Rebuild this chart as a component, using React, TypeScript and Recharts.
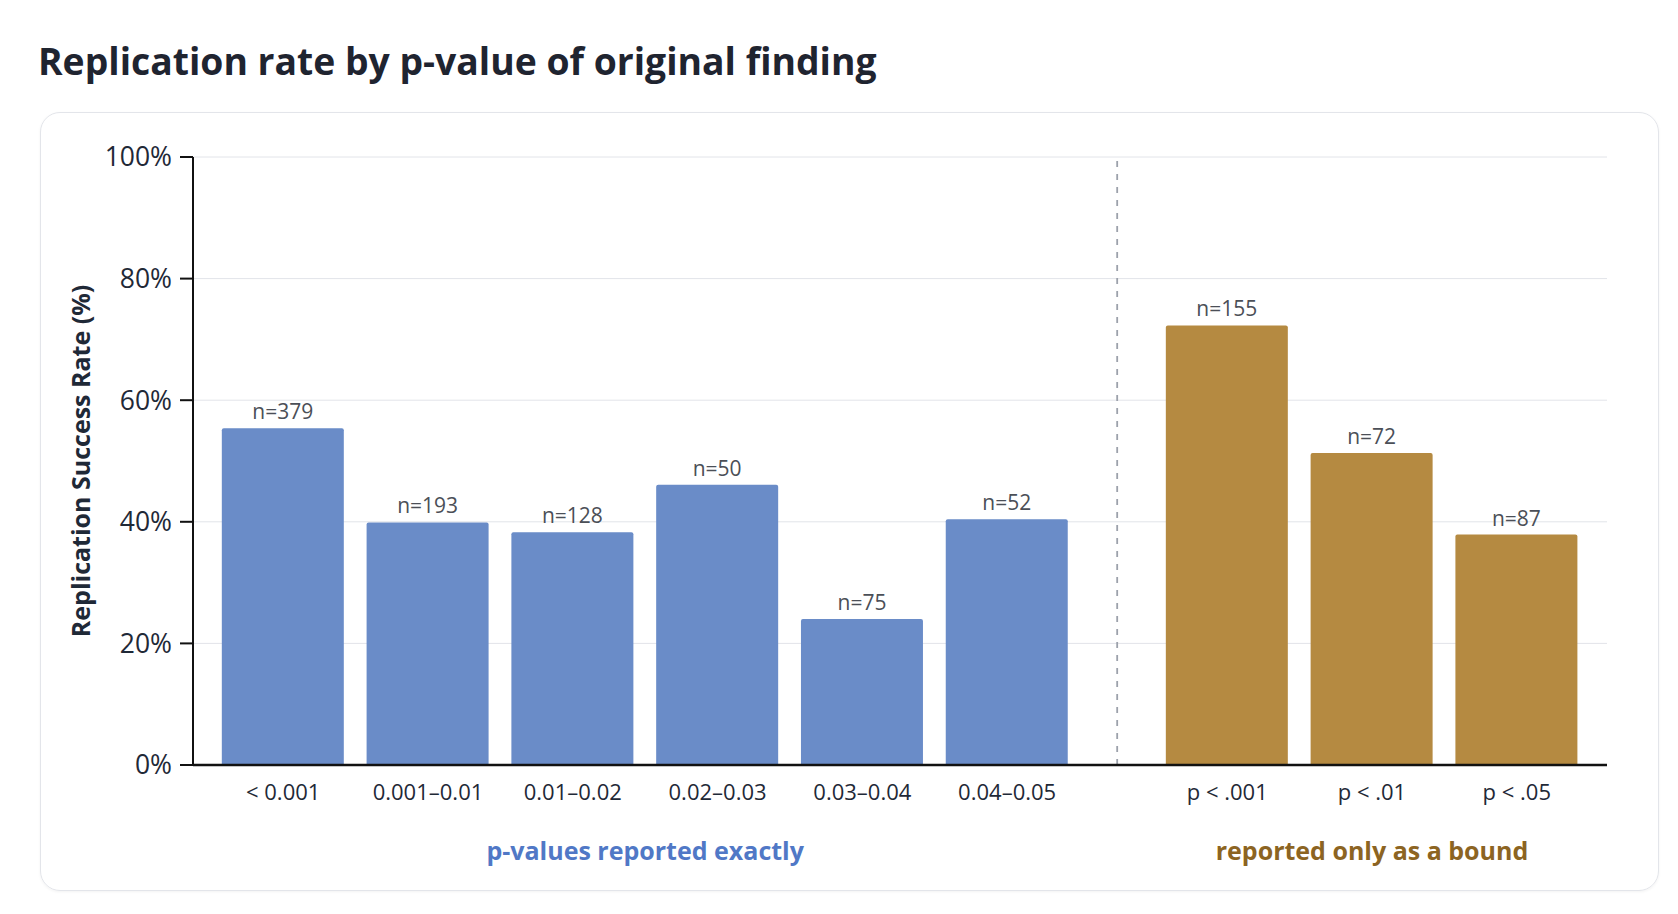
import React from 'react';
import {
  BarChart, Bar, XAxis, YAxis, CartesianGrid, Cell, LabelList, ReferenceLine,
} from 'recharts';

const CATEGORIES = ['< 0.001', '0.001–0.01', '0.01–0.02', '0.02–0.03', '0.03–0.04', '0.04–0.05', 'p < .001', 'p < .01', 'p < .05'];
const RATES = [55.4, 39.9, 38.3, 46.1, 24.0, 40.4, 72.3, 51.3, 37.9];
const COUNTS = [379, 193, 128, 50, 75, 52, 155, 72, 87];
const GROUP_OF = ['exact', 'exact', 'exact', 'exact', 'exact', 'exact', 'bound', 'bound', 'bound'];
const GROUP_KEYS = ['exact', 'bound'];
const GROUP_LABELS = ['p-values reported exactly', 'reported only as a bound'];
const Y_TICKS = [0, 20, 40, 60, 80, 100];

const BAR_COLOR: Record<string, string> = { exact: '#6a8cc8', bound: '#b58a41' };
const TEXT_COLOR: Record<string, string> = { exact: '#5078c6', bound: '#8c6422' };
const FONT = '"Open Sans", "Noto Sans", sans-serif';

// extra space (in slots) between the two groups, plus padding at both ends
const GROUP_GAP = 0.52;
const EDGE_PAD = 0.623;

const rows = CATEGORIES.map((name, i) => ({
  name,
  pos: i + (GROUP_OF[i] === 'bound' ? GROUP_GAP : 0),
  rate: RATES[i],
  n: COUNTS[i],
  group: GROUP_OF[i],
}));

const positions = rows.map((r) => r.pos);
const domain: [number, number] = [positions[0] - EDGE_PAD, positions[positions.length - 1] + EDGE_PAD];

const groupCenters = GROUP_KEYS.map((g) => {
  const p = rows.filter((r) => r.group === g).map((r) => r.pos);
  return (p[0] + p[p.length - 1]) / 2;
});

const lastExact = rows.filter((r) => r.group === 'exact').slice(-1)[0].pos;
const firstBound = rows.filter((r) => r.group === 'bound')[0].pos;
const dividerX = (lastExact + firstBound) / 2;

function labelAt(v: number) {
  const r = rows.find((row) => Math.abs(row.pos - v) < 1e-6);
  return r ? r.name : '';
}

function groupLabel(idx: number) {
  return (props: any) => {
    const vb = props.viewBox || {};
    const x = vb.x + (vb.width || 0) / 2;
    const y = vb.y + (vb.height || 0) + 85;
    return (
      <text x={x} y={y} textAnchor="middle" dominantBaseline="central"
        fill={TEXT_COLOR[GROUP_KEYS[idx]]} fontSize={25} fontWeight={700}>
        {GROUP_LABELS[idx]}
      </text>
    );
  };
}

function YTitle(props: any) {
  const { viewBox } = props;
  const cy = viewBox.y + viewBox.height / 2;
  return (
    <text x={80} y={cy} transform={`rotate(-90, 80, ${cy})`} textAnchor="middle" dominantBaseline="central"
      fill="#1f2937" fontSize={25} fontWeight={700}>
      Replication Success Rate (%)
    </text>
  );
}

export default function App() {
  return (
    <div style={{ position: 'absolute', left: 0, top: 0, width: 1678, height: 914, fontFamily: FONT, background: '#fff' }}>
      <div style={{ position: 'absolute', left: 38, top: 37, fontSize: 37.3, fontWeight: 700, color: '#1f2430', whiteSpace: 'nowrap', lineHeight: '48px' }}>
        Replication rate by p-value of original finding
      </div>
      <div style={{
        position: 'absolute', left: 40, top: 112, width: 1617, height: 777,
        border: '1.5px solid #e3e5ea', borderRadius: 20, boxShadow: '0 1px 3px rgba(0,0,0,0.05)',
      }} />
      <div style={{ position: 'absolute', left: 0, top: 0 }}>
        <BarChart width={1678} height={914} data={rows} margin={{ top: 157, right: 71, bottom: 99, left: 93 }}>
          <CartesianGrid vertical={false} stroke="#e2e4e9" strokeWidth={1} />
          <XAxis
            dataKey="pos" type="number" domain={domain} ticks={positions} interval={0}
            tickFormatter={labelAt} height={50} tickSize={0} tickMargin={19}
            axisLine={{ stroke: '#111', strokeWidth: 2.5 }} tickLine={false}
            tick={{ fontSize: 22, fill: '#1f2937' }} allowDataOverflow
          />
          <YAxis
            type="number" domain={[0, 100]} ticks={Y_TICKS} width={100} tickSize={13} tickMargin={8}
            tickFormatter={(v: number) => `${v}%`}
            axisLine={{ stroke: '#111', strokeWidth: 2 }} tickLine={{ stroke: '#111', strokeWidth: 2 }}
            tick={{ fontSize: 26.5, fill: '#1f2937' }}
            label={<YTitle />}
          />
          <ReferenceLine x={dividerX} stroke="#9ca1ab" strokeWidth={1.8} strokeDasharray="6 7" />
          {groupCenters.map((c, i) => (
            <ReferenceLine key={i} x={c} stroke="none" strokeOpacity={0} label={groupLabel(i)} />
          ))}
          <Bar dataKey="rate" barSize={122} radius={[2, 2, 0, 0]} isAnimationActive={false}>
            {rows.map((r, i) => (
              <Cell key={i} fill={BAR_COLOR[r.group]} />
            ))}
            <LabelList dataKey="n" position="top" offset={9} fill="#4b4f57" fontSize={21}
              formatter={(v: any) => `n=${v}`} />
          </Bar>
        </BarChart>
      </div>
    </div>
  );
}
